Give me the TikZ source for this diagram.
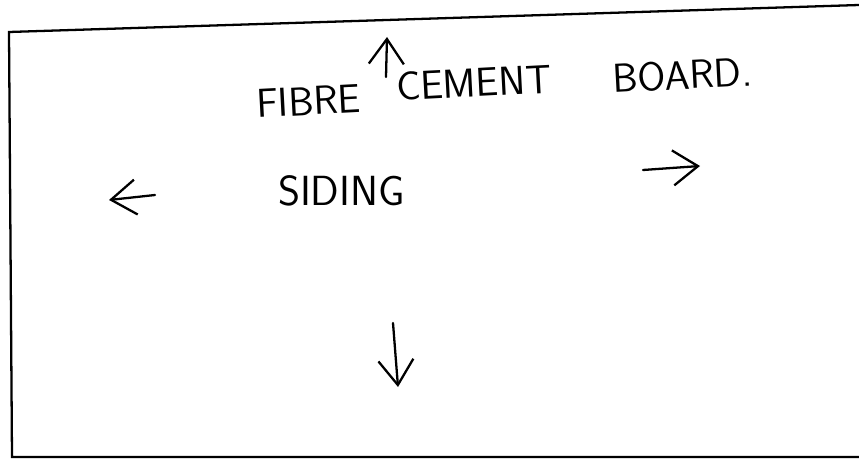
\documentclass[tikz,border=0pt]{standalone}
\usepackage{tikz}
\usetikzlibrary{arrows.meta}

\begin{document}
\begin{tikzpicture}[
  x=0.02cm,
  y=-0.02cm,
  >={Straight Barb[length=5mm,width=7mm]},
  line width=1.3pt,
  every node/.style={inner sep=0pt, outer sep=0pt},
  word/.style={
    anchor=base west,
    rotate=3,
    font=\sffamily\fontsize{23}{26}\selectfont
  },
  pointer/.style={->, line cap=round, line join=round}
]
\useasboundingbox (0,0) rectangle (859,459);
% edges of the sheet
\coordinate (tl) at (9,32);
\coordinate (tr) at (859,5);
\coordinate (bl) at (12,457);
\coordinate (br) at (859,457);
\draw (tr) -- (tl) -- (bl) -- (br);

% title
\node[word] (fibre) at (257,118) {FIBRE};
\node[word] (cement) at (397,101) {CEMENT};
\node[word] (board) at (613,93) {BOARD.};
\node[word, rotate=-3, font=\sffamily\fontsize{24}{26}\selectfont] (siding) at (278,206) {SIDING};

% arrow ends
\coordinate (up tail) at (386,77);
\coordinate (up tip) at (387,37);
\coordinate (left tail) at (155,195);
\coordinate (left tip) at (109,200);
\coordinate (right tail) at (643,170);
\coordinate (right tip) at (700,166);
\coordinate (down tail) at (393,323);
\coordinate (down tip) at (398,387);

\draw[pointer] (up tail) -- (up tip);
\draw[pointer] (left tail) -- (left tip);
\draw[pointer] (right tail) -- (right tip);
\draw[pointer] (down tail) -- (down tip);
\end{tikzpicture}
\end{document}
